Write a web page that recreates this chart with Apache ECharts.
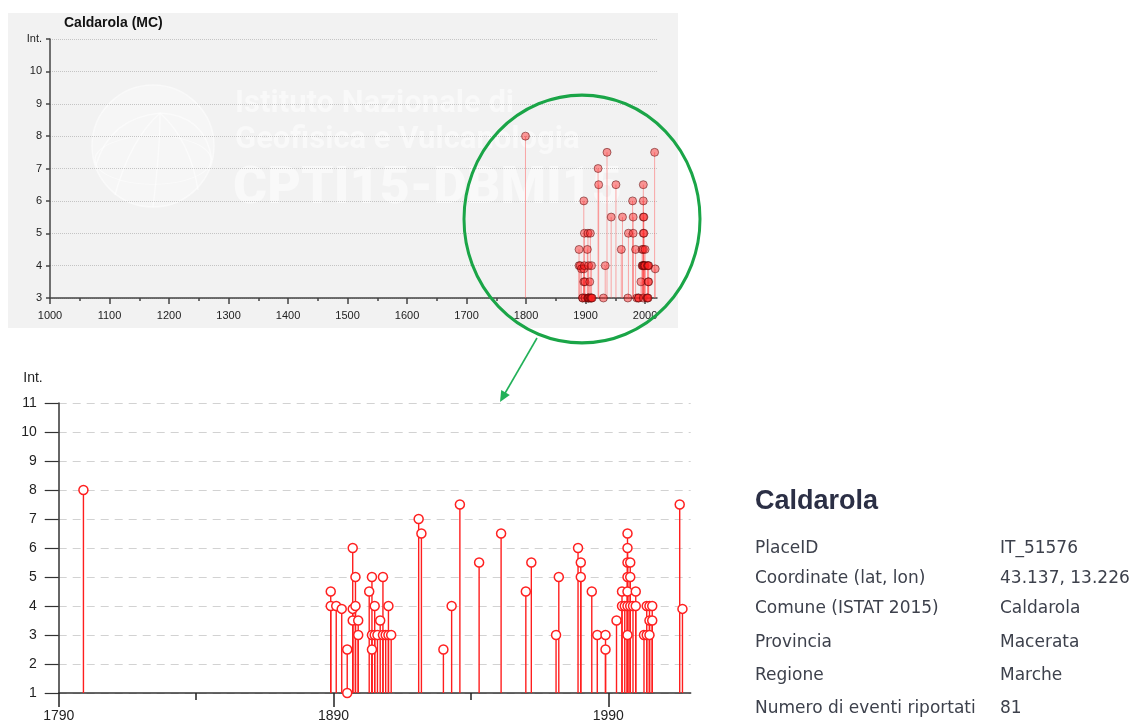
<!DOCTYPE html>
<html><head><meta charset="utf-8">
<script src="https://cdn.jsdelivr.net/npm/echarts@6/dist/echarts.min.js"></script>
<style>html,body{margin:0;padding:0;background:#fff;} #c{width:1134px;height:722px;}</style>
</head><body><div id="c"></div>
<script>
// ---- data ----
const eventYears = [1799,1889,1889,1891,1893,1895,1895,1897,1897,1897,1898,1898,1899,1899,
  1903,1904,1904,1904,1905,1905,1906,1907,1908,1908,1909,1910,1910,1911,
  1921,1922,1930,1933,1936,1943,1951,1960,1962,1971,1972,1979,1980,1980,1984,1986,1989,1989,
  1993,1995,1995,1996,1997,1997,1997,1997,1997,1997,1997,1998,1998,1998,1999,2000,2000,
  2003,2004,2004,2005,2005,2005,2006,2006,2016,2017];
const eventIntensities = [8,4.5,4,4,3.9,2.5,1,6,3.9,3.5,5,4,3.5,3,
  4.5,5,3,2.5,4,3,3,3.5,5,3,3,4,3,3,
  7,6.5,2.5,4,7.5,5.5,6.5,4.5,5.5,3,5,6,5.5,5,4.5,3,3,2.5,
  3.5,4.5,4,4,6.5,6,5.5,5,4.5,4,3,5.5,5,4,4,4.5,4,
  3,3,4,4,3.5,3,4,3.5,7.5,3.9];
const overviewXLabels = [1000,1100,1200,1300,1400,1500,1600,1700,1800,1900,2000];
const overviewXTicks = [1000,1050,1100,1150,1200,1250,1300,1350,1400,1450,1500,1550,1600,1650,1700,1750,1800,1850,1900,1950,2000];
const detailXLabels = [1790,1890,1990];
const detailXMinorTicks = [1840,1940];
const overviewTitle = 'Caldarola (MC)';
const watermarkLines = ['Istituto Nazionale di', 'Geofisica e Vulcanologia', 'CPTI15-DBMI15'];
const placeName = 'Caldarola';
const placeInfoLabels = ['PlaceID','Coordinate (lat, lon)','Comune (ISTAT 2015)','Provincia','Regione','Numero di eventi riportati'];
const placeInfoValues = ['IT_51576','43.137, 13.226','Caldarola','Macerata','Marche','81'];

const OV_MIN = 3, OV_MAX = 11, DT_MIN = 1, DT_MAX = 11;

const chart = echarts.init(document.getElementById('c'), null, {renderer:'canvas'});

function stemRenderer(base, color, width) {
  return function (params, api) {
    const x = api.value(0), y = api.value(1);
    const p1 = api.coord([x, y]);
    const p0 = api.coord([x, base]);
    return {type:'line', shape:{x1:p0[0], y1:p0[1], x2:p1[0], y2:p1[1]},
            style:{stroke:color, lineWidth:width}};
  };
}

const ovData = eventYears.map((y, i) => [y, Math.max(OV_MIN, eventIntensities[i])]);
const dtData = eventYears.map((y, i) => [y, eventIntensities[i]]);

const FONT = 'Liberation Sans, Arial, sans-serif';
const rowY = [549, 579, 609, 643, 676, 709];
const WM = 'rgba(255,255,255,0.5)';

const graphicEls = [
  {type:'rect', z:-10, shape:{x:8, y:13, width:670, height:315}, style:{fill:'#f2f2f2'}},
  // watermark globe
  {type:'circle', z:-9, shape:{cx:153, cy:146, r:61}, style:{fill:'rgba(255,255,255,0.3)', stroke:WM, lineWidth:1.5}},
  {type:'circle', z:-9, x:153, y:160, scaleY:0.42, shape:{cx:0, cy:0, r:58}, style:{fill:'none', stroke:WM, lineWidth:1.5}},
  {type:'bezierCurve', z:-9, shape:{x1:160, y1:113, x2:153, y2:207, cpx1:160, cpy1:150}, style:{fill:'none', stroke:WM, lineWidth:1.5}},
  {type:'bezierCurve', z:-9, shape:{x1:160, y1:113, x2:115, y2:195, cpx1:130, cpy1:140}, style:{fill:'none', stroke:WM, lineWidth:1.5}},
  {type:'bezierCurve', z:-9, shape:{x1:160, y1:113, x2:198, y2:190, cpx1:190, cpy1:140}, style:{fill:'none', stroke:WM, lineWidth:1.5}},
  {type:'bezierCurve', z:-9, shape:{x1:160, y1:113, x2:96, y2:165, cpx1:110, cpy1:118}, style:{fill:'none', stroke:WM, lineWidth:1.5}},
  {type:'bezierCurve', z:-9, shape:{x1:160, y1:113, x2:212, y2:160, cpx1:205, cpy1:115}, style:{fill:'none', stroke:WM, lineWidth:1.5}},
  {type:'text', z:-9, x:235, y:104, style:{text:watermarkLines[0], font:'bold 31px Roboto, sans-serif', fill:WM, verticalAlign:'middle'}},
  {type:'text', z:-9, x:235, y:140, style:{text:watermarkLines[1], font:'bold 31px Roboto, sans-serif', fill:WM, verticalAlign:'middle'}},
  {type:'text', z:-9, x:233, y:190, style:{text:watermarkLines[2], font:'900 52px Roboto, sans-serif', fill:WM, verticalAlign:'middle'}},
  // title of overview chart
  {type:'text', z:5, x:64, y:23, style:{text:overviewTitle, font:'bold 14px ' + FONT, fill:'#111', verticalAlign:'middle'}},
  // green zoom circle + arrow
  {type:'circle', z:50, x:582, y:219, scaleY:1.05, shape:{cx:0, cy:0, r:118}, style:{fill:'none', stroke:'#1aa547', lineWidth:3}},
  {type:'line', z:50, shape:{x1:537, y1:338, x2:504, y2:395}, style:{stroke:'#22b159', lineWidth:1.6}},
  {type:'polygon', z:50, shape:{points:[[500,402],[509.8,395],[501.2,390]]}, style:{fill:'#22b159'}},
  // info table
  {type:'text', z:5, x:755, y:502, style:{text:placeName, font:'bold 27px ' + FONT, fill:'#2b2f45', verticalAlign:'middle'}}
];
placeInfoLabels.forEach((t, i) => {
  graphicEls.push({type:'text', z:5, x:755, y:rowY[i], style:{text:t, font:'17px DejaVu Sans, sans-serif', fill:'#3d414c', verticalAlign:'middle'}});
  graphicEls.push({type:'text', z:5, x:1000, y:rowY[i], style:{text:placeInfoValues[i], font:'17px DejaVu Sans, sans-serif', fill:'#3d414c', verticalAlign:'middle'}});
});

const plain = v => String(v);

const option = {
  animation: false,
  backgroundColor: '#ffffff',
  graphic: {elements: graphicEls},
  grid: [
    {left:50, top:39, width:607, height:259, containLabel:false, outerBoundsMode:'none'},
    {left:58.7, top:403, width:632, height:290, containLabel:false, outerBoundsMode:'none'}
  ],
  xAxis: [
    {type:'value', gridIndex:0, position:'bottom', min:1000, max:2020,
     axisLine:{lineStyle:{color:'#444', width:1.5}},
     axisTick:{customValues:overviewXLabels, length:6, lineStyle:{color:'#444', width:1.5}},
     axisLabel:{customValues:overviewXLabels, fontSize:11, color:'#222', margin:12, fontFamily:FONT, formatter:plain},
     splitLine:{show:false}},
    {type:'value', gridIndex:0, position:'bottom', min:1000, max:2020,
     axisLine:{show:false},
     axisTick:{customValues:overviewXTicks, length:3, lineStyle:{color:'#444', width:1.5}},
     axisLabel:{show:false}, splitLine:{show:false}},
    {type:'value', gridIndex:1, position:'bottom', min:1790, max:2020,
     axisLine:{lineStyle:{color:'#333', width:1.5}},
     axisTick:{customValues:detailXLabels, length:14, lineStyle:{color:'#222', width:1.5}},
     axisLabel:{customValues:detailXLabels, fontSize:14, color:'#222', margin:16, fontFamily:FONT, formatter:plain},
     splitLine:{show:false}},
    {type:'value', gridIndex:1, position:'bottom', min:1790, max:2020,
     axisLine:{show:false},
     axisTick:{customValues:detailXMinorTicks, length:7, lineStyle:{color:'#222', width:1.5}},
     axisLabel:{show:false}, splitLine:{show:false}}
  ],
  yAxis: [
    {type:'value', gridIndex:0, min:OV_MIN, max:OV_MAX, interval:1,
     axisLine:{show:true, lineStyle:{color:'#444', width:1.5}},
     axisTick:{show:true, length:4, lineStyle:{color:'#444', width:1.5}},
     axisLabel:{fontSize:11, color:'#222', margin:8, fontFamily:FONT,
       formatter: v => v === OV_MAX ? 'Int.' : String(v)},
     splitLine:{show:true, lineStyle:{color:'#c4c4c4', type:'dotted', width:1}}},
    {type:'value', gridIndex:1, min:DT_MIN, max:DT_MAX, interval:1,
     name:'Int.', nameLocation:'end', nameGap:18,
     nameTextStyle:{fontSize:14, color:'#222', align:'right', padding:[0,16,0,0], fontFamily:FONT},
     axisLine:{show:true, lineStyle:{color:'#333', width:1.5}},
     axisTick:{show:true, length:14, lineStyle:{color:'#333', width:1.2}},
     axisLabel:{fontSize:14, color:'#222', margin:22, fontFamily:FONT, padding:[0,0,8,0]},
     splitLine:{show:true, lineStyle:{color:'#d2d2d2', type:[8,6], width:1}}}
  ],
  series: [
    {type:'custom', xAxisIndex:0, yAxisIndex:0, z:2, data:ovData, encode:{x:0, y:1},
     renderItem: stemRenderer(OV_MIN, 'rgba(255,90,90,0.5)', 1)},
    {type:'scatter', xAxisIndex:0, yAxisIndex:0, z:3, data:ovData, symbolSize:8,
     itemStyle:{color:'rgba(255,30,30,0.45)', borderColor:'rgba(80,0,0,0.5)', borderWidth:1, opacity:1}},
    {type:'custom', xAxisIndex:2, yAxisIndex:1, z:2, data:dtData, encode:{x:0, y:1},
     renderItem: stemRenderer(DT_MIN, '#ff1e1e', 1.4)},
    {type:'scatter', xAxisIndex:2, yAxisIndex:1, z:3, data:dtData, symbolSize:9,
     itemStyle:{color:'#ffffff', borderColor:'#ff2020', borderWidth:1.5, opacity:1}}
  ]
};
chart.setOption(option);
</script></body></html>
